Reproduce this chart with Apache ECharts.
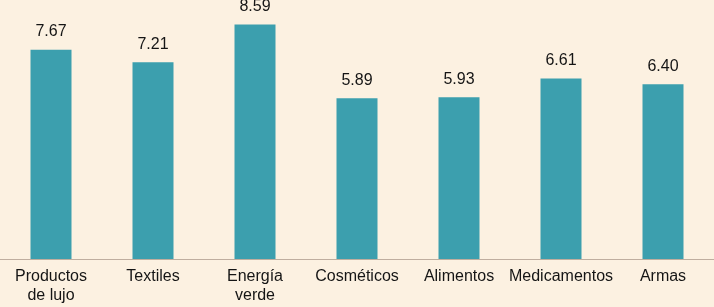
<!DOCTYPE html>
<html>
<head>
<meta charset="utf-8">
<script src="https://cdn.jsdelivr.net/npm/echarts@6/dist/echarts.min.js"></script>
<style>
  html,body{margin:0;padding:0;background:#fcf1e1;}
  #chart{width:714px;height:307px;}
</style>
</head>
<body>
<div id="chart"></div>
<script>
  var categories = ['Productos\nde lujo', 'Textiles', 'Energía\nverde', 'Cosméticos', 'Alimentos', 'Medicamentos', 'Armas'];
  var values = [7.67, 7.21, 8.59, 5.89, 5.93, 6.61, 6.40];

  var myChart = echarts.init(document.getElementById('chart'));
  myChart.setOption({
    backgroundColor: '#fcf1e1',
    animation: false,
    grid: {
      left: -1,
      width: 722,
      top: 12,
      bottom: 48
    },
    xAxis: {
      type: 'category',
      data: categories,
      axisTick: { show: false },
      axisLine: { lineStyle: { color: '#bfae9f', width: 1 } },
      axisLabel: {
        color: '#151515',
        fontFamily: 'Liberation Sans',
        fontSize: 16,
        lineHeight: 19,
        margin: 8,
        interval: 0
      }
    },
    yAxis: {
      type: 'value',
      min: 0,
      max: 9.05,
      show: false
    },
    series: [{
      type: 'bar',
      data: values,
      barWidth: 41,
      itemStyle: { color: '#3c9fae' },
      label: {
        show: true,
        position: 'top',
        distance: 10,
        color: '#151515',
        fontFamily: 'Liberation Sans',
        fontSize: 16,
        formatter: function (p) { return p.value.toFixed(2); }
      }
    }]
  });
</script>
</body>
</html>
